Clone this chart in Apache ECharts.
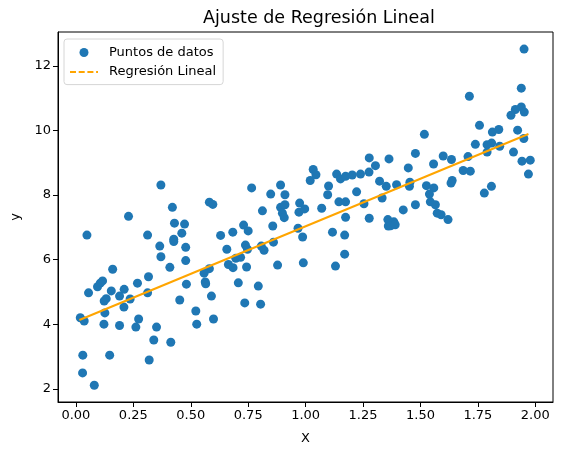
<!DOCTYPE html>
<html>
<head>
<meta charset="utf-8">
<script src="https://cdn.jsdelivr.net/npm/echarts@6/dist/echarts.min.js"></script>
<style>
  html, body { margin: 0; padding: 0; background: #fff; }
  #chart { width: 562px; height: 455px; }
</style>
</head>
<body>
<div id="chart"></div>
<script>
// puntos (x, y)
const puntos = [
  [0.048,6.76],[0.312,6.76],[0.365,6.42],[0.370,6.09],[0.429,7.13],[0.473,7.10],[0.461,6.82],[0.426,6.63],
  [0.426,6.56],[0.478,6.38],[0.478,5.97],[0.409,5.76],[0.630,6.75],[0.657,6.32],[0.581,5.72],[0.558,5.58],
  [0.563,5.31],[0.565,5.25],[0.481,5.24],[0.590,4.87],[0.452,4.75],[0.522,4.41],[0.526,4.00],[0.599,4.16],
  [0.160,5.70],[0.116,5.34],[0.106,5.27],[0.094,5.16],[0.055,4.97],[0.154,5.03],[0.210,5.08],[0.190,4.87],
  [0.132,4.79],[0.123,4.72],[0.236,4.78],[0.209,4.53],[0.268,5.27],[0.316,5.47],[0.312,4.97],[0.126,4.35],
  [0.019,4.20],[0.036,4.10],[0.122,4.00],[0.190,3.96],[0.261,3.91],[0.273,4.16],[0.351,3.91],[0.339,3.51],
  [0.413,3.44],[0.030,3.04],[0.147,3.04],[0.029,2.49],[0.080,2.11],[0.319,2.89],[0.229,7.34],[0.370,8.31],
  [0.420,7.62],[0.581,7.78],[0.596,7.71],
  [0.730,7.07],[0.750,6.89],[0.683,6.85],[0.738,6.45],[0.747,6.32],[0.696,6.04],[0.717,6.07],[0.664,5.85],
  [0.684,5.75],[0.743,5.77],[0.707,5.28],[0.794,5.18],[0.735,4.66],[0.804,4.62],[0.807,6.42],[0.819,6.29],
  [0.857,7.04],[0.860,6.54],[0.878,5.83],[0.967,6.97],[0.987,6.70],[0.990,5.90],[1.117,6.85],[1.170,6.76],
  [1.170,6.17],[1.130,5.80],[1.360,7.04],
  [0.765,8.22],[0.891,8.31],[0.848,8.03],[0.910,8.01],[0.812,7.51],[0.891,7.62],[0.910,7.70],[0.899,7.44],
  [0.907,7.30],[0.974,7.75],[0.971,7.47],[0.996,7.57],[1.070,7.59],[1.033,8.79],[1.045,8.63],[1.020,8.45],
  [1.100,8.28],[1.096,8.01],[1.135,8.65],[1.152,8.50],[1.174,8.58],[1.203,8.62],[1.239,8.65],[1.277,9.15],
  [1.304,8.91],[1.276,8.71],[1.363,9.12],[1.322,8.43],[1.351,8.27],[1.333,7.91],[1.222,8.10],[1.145,7.79],
  [1.174,7.79],[1.254,7.73],[1.174,7.31],[1.277,7.28],[1.358,7.24],
  [1.951,12.52],[1.939,11.31],[1.713,11.06],[1.939,10.73],[1.913,10.65],[1.894,10.47],[1.952,10.57],[1.757,10.16],
  [1.841,10.03],[1.813,9.95],[1.923,10.01],[1.517,9.88],[1.739,9.57],[1.790,9.56],[1.810,9.61],[1.845,9.51],
  [1.950,9.75],[1.790,9.33],[1.905,9.33],[1.707,9.19],[1.599,9.21],[1.635,9.10],[1.478,9.29],[1.557,8.96],
  [1.942,9.05],[1.978,9.08],[1.970,8.65],[1.447,8.84],[1.686,8.76],[1.717,8.74],[1.638,8.45],[1.633,8.37],
  [1.454,8.40],[1.452,8.27],[1.396,8.32],[1.526,8.29],[1.558,8.22],[1.539,8.03],[1.543,7.79],[1.565,7.70],
  [1.573,7.44],[1.590,7.39],[1.478,7.70],[1.425,7.54],[1.778,8.06],[1.809,8.27],[1.620,7.24],[1.384,7.17],
  [1.370,7.05],[1.390,7.08]
];
// extremos de la recta de regresión
const lineaX = [0.015, 1.97];
const lineaY = [4.13, 9.89];
const ticksX = [0, 0.25, 0.5, 0.75, 1.0, 1.25, 1.5, 1.75, 2.0];
const ticksY = [2, 4, 6, 8, 10, 12];

const font = 'DejaVu Sans';
const chart = echarts.init(document.getElementById('chart'));

chart.setOption({
  animation: false,
  textStyle: { fontFamily: font },
  title: {
    text: 'Ajuste de Regresión Lineal',
    left: 198, top: 4,
    textStyle: { fontFamily: font, fontSize: 17.5, fontWeight: 'normal', color: '#000' }
  },
  legend: {
    orient: 'vertical',
    left: 64, top: 39,
    padding: [6, 7, 5, 5],
    itemGap: 4.6,
    itemWidth: 28,
    itemHeight: 9,
    borderColor: '#d6d6d6', borderWidth: 1, borderRadius: 3,
    backgroundColor: 'rgba(255,255,255,0.8)',
    textStyle: { fontFamily: font, fontSize: 13, lineHeight: 15, color: '#000', padding: [0, 0, 0, 6] },
    data: [
      { name: 'Puntos de datos', icon: 'circle' },
      { name: 'Regresión Lineal',
        itemStyle: { opacity: 0 },
        lineStyle: { type: [6, 2.7], width: 2, color: 'orange' } }
    ]
  },
  grid: { left: 58, right: 9, top: 32, bottom: 53, show: true, borderColor: '#000', borderWidth: 1 },
  xAxis: {
    type: 'value', min: -0.078, max: 2.077,
    name: 'X', nameLocation: 'middle', nameGap: 30,
    nameTextStyle: { fontFamily: font, fontSize: 13, color: '#000' },
    splitLine: { show: false },
    axisLine: { show: true, onZero: false, lineStyle: { color: '#000' } },
    axisTick: { show: true, length: 5, lineStyle: { color: '#000' }, customValues: ticksX },
    axisLabel: { color: '#000', fontSize: 13, margin: 7, customValues: ticksX,
      formatter: v => v.toFixed(2) }
  },
  yAxis: {
    type: 'value', min: 1.59, max: 13.05,
    name: 'y', nameLocation: 'middle', nameGap: 36,
    nameTextStyle: { fontFamily: font, fontSize: 13, color: '#000' },
    splitLine: { show: false },
    axisLine: { show: true, onZero: false, lineStyle: { color: '#000' } },
    axisTick: { show: true, length: 5, lineStyle: { color: '#000' }, customValues: ticksY },
    axisLabel: { color: '#000', fontSize: 13, margin: 7, customValues: ticksY }
  },
  series: [
    {
      name: 'Puntos de datos', type: 'scatter',
      data: puntos, symbolSize: 9,
      itemStyle: { color: '#1f77b4', opacity: 1 },
      z: 2
    },
    {
      name: 'Regresión Lineal', type: 'line',
      data: lineaX.map((x, i) => [x, lineaY[i]]),
      symbol: 'none',
      lineStyle: { color: 'orange', width: 2, type: 'solid' },
      itemStyle: { color: 'orange' },
      z: 3
    }
  ]
});
</script>
</body>
</html>
